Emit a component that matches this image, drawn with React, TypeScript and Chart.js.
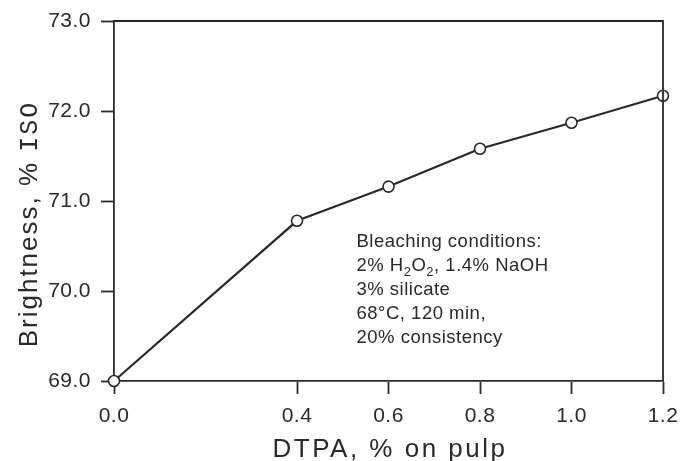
import React, { useEffect, useRef } from "react";
import { Chart, registerables } from "chart.js";

Chart.register(...registerables);

const dtpa = [0.0, 0.4, 0.6, 0.8, 1.0, 1.2];
const brightness = [69.0, 70.78, 71.16, 71.58, 71.87, 72.17];
const xTicks = [0.0, 0.4, 0.6, 0.8, 1.0, 1.2];
const yTicks = [69.0, 70.0, 71.0, 72.0, 73.0];
const xTitle = "DTPA, % on pulp";
const yTitleMain = "Brightness, % ";
const yTitleIso = "ISO";
// each line: array of [text, isSubscript]
const noteLines: [string, boolean][][] = [
  [["Bleaching conditions:", false]],
  [["2% H", false], ["2", true], ["O", false], ["2", true], [", 1.4% NaOH", false]],
  [["3% silicate", false]],
  [["68°C, 120 min,", false]],
  [["20% consistency", false]],
];

const FONT = "'Liberation Sans', Arial, Helvetica, sans-serif";
const MONO = "'Liberation Mono', 'DejaVu Sans Mono', monospace";
const INK = "#2a2a2a";

const decorPlugin = {
  id: "decor",
  beforeDraw(chart: any) {
    (chart.ctx as any).letterSpacing = "0.5px";
  },
  afterDatasetsDraw(chart: any) {
    const { ctx, chartArea, scales } = chart;
    ctx.save();
    // frame top/right
    ctx.strokeStyle = INK;
    ctx.lineWidth = 1.8;
    ctx.beginPath();
    ctx.moveTo(chartArea.left, chartArea.top);
    ctx.lineTo(chartArea.right, chartArea.top);
    ctx.lineTo(chartArea.right, chartArea.bottom);
    ctx.stroke();

    // annotation
    const x0 = scales.x.getPixelForValue(0.53);
    const y0 = scales.y.getPixelForValue(70.49);
    ctx.fillStyle = INK;
    ctx.textBaseline = "alphabetic";
    ctx.textAlign = "left";
    (ctx as any).letterSpacing = "0.5px";
    noteLines.forEach((line, i) => {
      let x = x0;
      const y = y0 + i * 24;
      line.forEach(([t, sub]) => {
        ctx.font = sub ? `13px ${FONT}` : `18.5px ${FONT}`;
        ctx.fillText(t, x, sub ? y + 5 : y);
        x += ctx.measureText(t).width;
      });
    });

    // y title
    ctx.save();
    ctx.translate(37, 224);
    ctx.rotate(-Math.PI / 2);
    (ctx as any).letterSpacing = "2px";
    ctx.font = `26px ${FONT}`;
    const w1 = ctx.measureText(yTitleMain).width;
    ctx.font = `25px ${MONO}`;
    const w2 = ctx.measureText(yTitleIso).width;
    const sx = -(w1 + w2) / 2;
    ctx.textBaseline = "alphabetic";
    ctx.font = `26px ${FONT}`;
    ctx.fillText(yTitleMain, sx, 0);
    ctx.font = `25px ${MONO}`;
    ctx.fillText(yTitleIso, sx + w1, 0);
    ctx.restore();

    // x title
    (ctx as any).letterSpacing = "2.5px";
    ctx.font = `26px ${FONT}`;
    ctx.textAlign = "center";
    ctx.textBaseline = "alphabetic";
    ctx.fillText(xTitle, 390, 457);
    ctx.restore();
  },
};

export default function App() {
  const ref = useRef<HTMLCanvasElement>(null);
  useEffect(() => {
    document.body.style.margin = "0";
    const chart = new Chart(ref.current!, {
      type: "line",
      data: {
        datasets: [
          {
            data: dtpa.map((x, i) => ({ x, y: brightness[i] })),
            borderColor: INK,
            borderWidth: 2.2,
            pointRadius: 5.5,
            pointBackgroundColor: "#ffffff",
            pointBorderColor: INK,
            pointBorderWidth: 1.6,
            tension: 0,
            clip: false as any,
          },
        ],
      },
      options: {
        animation: false,
        responsive: false,
        maintainAspectRatio: false,
        layout: { padding: { left: 0, right: 19, top: 21, bottom: 0 } },
        plugins: { legend: { display: false }, tooltip: { enabled: false } },
        scales: {
          x: {
            type: "linear",
            min: 0,
            max: 1.2,
            afterBuildTicks(scale: any) {
              scale.ticks = xTicks.map((v) => ({ value: v }));
            },
            afterFit(scale: any) {
              scale.height = 80;
              scale.paddingLeft = 0;
              scale.paddingRight = 0;
            },
            ticks: {
              color: INK,
              font: { family: FONT, size: 21 },
              padding: 10,
              maxRotation: 0,
              callback: (v: any) => Number(v).toFixed(1),
            },
            grid: {
              drawOnChartArea: false,
              drawTicks: true,
              tickLength: 13,
              tickColor: INK,
              tickWidth: 1.8,
            },
            border: { display: true, color: INK, width: 1.8 },
          },
          y: {
            type: "linear",
            min: 69,
            max: 73,
            afterBuildTicks(scale: any) {
              scale.ticks = yTicks.map((v) => ({ value: v }));
            },
            afterFit(scale: any) {
              scale.width = 114;
              scale.paddingTop = 0;
              scale.paddingBottom = 0;
            },
            ticks: {
              color: INK,
              font: { family: FONT, size: 21 },
              padding: 10,
              callback: (v: any) => Number(v).toFixed(1),
            },
            grid: {
              drawOnChartArea: false,
              drawTicks: true,
              tickLength: 13,
              tickColor: INK,
              tickWidth: 1.8,
            },
            border: { display: true, color: INK, width: 1.8 },
          },
        },
      },
      plugins: [decorPlugin],
    });
    return () => chart.destroy();
  }, []);
  return (
    <div style={{ width: 682, height: 461, background: "#fff" }}>
      <canvas ref={ref} width={682} height={461} style={{ display: "block" }} />
    </div>
  );
}
